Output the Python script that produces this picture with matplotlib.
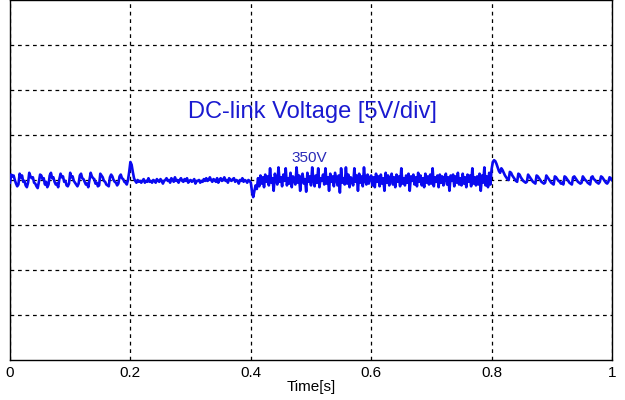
import numpy as np
import matplotlib
matplotlib.use("Agg")
import matplotlib.pyplot as plt

plt.rcParams['font.family'] = ['Liberation Sans', 'DejaVu Sans']

baseline = 350.0  # V

# Voltage deviation from 350 V, per 0.2 s segment
dv_seg1 = [-0.3, 0.6, 0.4, 0.5, 0.0, -0.4, -0.7, -0.5,
           0.7, 0.3, 0.5, -0.2, -0.1, -0.6, -0.8, -0.3,
           0.8, 0.4, 0.2, 0.3, -0.3, -0.4, -0.7, -0.9, -0.2,
           0.6, 0.5, 0.1, 0.2, -0.5, -0.2, -0.8, -0.5,
           0.5, 0.8, 0.2, 0.3, -0.2, -0.5, -0.4, -0.8,
           0.1, 0.7, 0.3, 0.4, -0.2, -0.1, -0.6, -0.7, -0.4,
           0.8, 0.3, 0.4, -0.1, -0.3, -0.5, -0.7, -0.4,
           0.5, 0.7, 0.2, 0.1, -0.2, -0.5, -0.4, -0.8,
           0.0, 0.8, 0.4, 0.2, 0.1, -0.4, -0.3, -0.7, -0.6,
           0.7, 0.5, 0.3, -0.1, -0.2, -0.5, -0.6, -0.7,
           0.3, 0.6, 0.4, 0.0, -0.2, -0.3, -0.6, -0.4,
           0.4, 0.6, 0.2, 0.1, -0.2, -0.3, -0.5, 0.0, 0.9]

dv_seg2 = [2.0, 1.7, 0.9, 0.2, -0.1, -0.3, 0.0, -0.2, -0.1, -0.3,
           -0.1, 0.1, -0.3, -0.1, -0.2, 0.2, -0.2, -0.1, -0.3, 0.0,
           -0.1, -0.3, 0.1, -0.1, -0.2, 0.1, -0.1, -0.4, -0.1, 0.0,
           0.2, -0.1, 0.0, -0.3, 0.2, 0.0, -0.2, 0.3, -0.1, 0.0,
           -0.3, 0.0, 0.2, -0.1, -0.2, 0.1, -0.1, 0.2, -0.3, -0.1,
           0.0, -0.2, -0.1, 0.1, -0.4, -0.1, -0.1, 0.0, -0.3, -0.1,
           -0.2, 0.1, -0.1, 0.2, -0.1, 0.0, 0.3, 0.0, -0.2, 0.1,
           0.0, -0.2, 0.2, -0.3, 0.0, 0.2, -0.1, 0.0, 0.3, -0.1,
           0.0, -0.3, 0.2, 0.0, -0.1, 0.1, 0.2, -0.2, 0.0, -0.1,
           -0.4, 0.0, -0.1, 0.2, -0.2, 0.0, -0.1, -0.3, 0.0, -0.1]

dv_seg3 = [-0.3, -1.3, -1.9, -1.2, -0.6, -1.0, 0.2, -0.7, 0.5, -0.4,
           0.3, -0.8, 0.6, -0.2, 0.4, -0.6, 1.3, -0.3, 0.2, -1.2,
           0.7, 0.0, -0.5, 1.4, -0.2, 0.3, -0.7, 0.6, -0.1, 1.3,
           -0.6, 0.2, -0.4, 0.8, -0.8, 0.4, 0.0, -0.5, 1.4, -0.3,
           0.5, -1.2, 0.3, 0.7, -0.4, 0.1, -1.3, 0.8, -0.2, 0.4,
           -0.6, 1.4, 0.0, -0.7, 0.5, -0.3, 1.3, -0.8, 0.2, -0.1,
           0.6, -0.5, 1.3, -0.4, 0.3, -1.2, 0.7, -0.2, 0.4, -0.7,
           0.8, 0.1, -0.6, 0.5, -1.4, 1.3, -0.3, 0.2, -0.5, 1.4,
           -0.4, 0.6, -0.8, 0.3, 0.0, -0.6, 1.3, -0.2, 0.5, -1.2,
           0.7, -0.3, 0.4, -0.7, 1.4, -0.1, -0.5, 0.6, -0.4, 0.3]

dv_seg4 = [0.5, -0.6, 0.3, -0.8, 0.7, -0.2, 0.4, -0.7, 0.6, -0.4,
           0.2, -1.2, 0.8, -0.3, 0.5, -0.6, 0.1, 0.7, -0.5, 0.3,
           -0.8, 0.6, -0.2, 0.4, -0.7, 1.3, -0.4, 0.2, -0.6, 0.5,
           -0.3, 0.7, -1.2, 0.4, -0.1, 0.6, -0.5, 0.3, -0.7, 0.8,
           -0.2, 0.5, -0.6, 0.2, -0.8, 0.7, -0.3, 0.4, -0.5, 0.6,
           -0.4, 1.3, -0.7, 0.3, -0.2, 0.5, -0.8, 0.6, -0.3, 0.4,
           -0.6, 0.2, 0.7, -0.5, 0.3, -1.2, 0.5, -0.1, 0.6, -0.7,
           0.4, -0.3, 0.8, -0.5, 0.2, -0.6, 0.7, -0.4, 0.3, -0.8,
           0.6, -0.2, 0.5, -0.7, 1.3, -0.4, 0.3, -0.6, 0.4, -0.5,
           0.7, -1.2, 0.5, -0.3, 1.4, -0.6, 0.4, -0.8, 0.8, -0.5]

dv_seg5 = [1.2, 2.0, 2.2, 2.1, 1.8, 1.4, 1.0, 0.8,
           1.3, 1.1, 0.8, 0.5, 0.3, 0.1, 0.0,
           0.9, 0.8, 0.5, 0.3, 0.1, -0.1, -0.2,
           0.7, 0.6, 0.3, 0.1, -0.1, -0.2, -0.3, -0.2,
           0.6, 0.4, 0.2, 0.0, -0.2, -0.3, -0.4,
           0.5, 0.4, 0.2, 0.0, -0.2, -0.3, -0.4, -0.3,
           0.5, 0.3, 0.1, -0.1, -0.3, -0.4, -0.5,
           0.4, 0.3, 0.1, -0.1, -0.2, -0.4, -0.3, -0.5,
           0.4, 0.3, 0.1, -0.1, -0.3, -0.4, -0.5,
           0.3, 0.4, 0.2, 0.0, -0.2, -0.3, -0.4, -0.3,
           0.4, 0.2, 0.0, -0.1, -0.3, -0.4, -0.5,
           0.3, 0.4, 0.1, 0.0, -0.2, -0.3, -0.4, -0.2,
           0.4, 0.3, 0.1, -0.1, -0.3, -0.4, -0.2, 0.3, 0.2, 0.0]

segment_edges = [0.0, 0.2, 0.4, 0.6, 0.8, 1.0]
x_ticks = [0, 0.2, 0.4, 0.6, 0.8, 1]
x_ticklabels = ['0', '0.2', '0.4', '0.6', '0.8', '1']
y_grid = [335, 340, 345, 350, 355, 360, 365]

title_text = 'DC-link Voltage [5V/div]'
level_text = '350V'

segs = [dv_seg1, dv_seg2, dv_seg3, dv_seg4, dv_seg5]
t_parts, v_parts = [], []
for i, s in enumerate(segs):
    last = (i == len(segs) - 1)
    t_parts.append(np.linspace(segment_edges[i], segment_edges[i + 1], len(s), endpoint=last))
    v_parts.append(baseline + np.array(s))
t = np.concatenate(t_parts)
v = np.concatenate(v_parts)

fig = plt.figure(figsize=(6.25, 4.0), dpi=100)
ax = fig.add_axes([10 / 625, 40 / 400, 602 / 625, 360 / 400])

ax.plot(t, v, color='#0a0af0', lw=1.9, zorder=3)

ax.set_xlim(0, 1)
ax.set_ylim(330, 370)
ax.set_xticks(x_ticks)
ax.set_xticklabels(x_ticklabels, fontsize=11)
ax.set_yticks(y_grid)
ax.set_yticklabels([])
ax.tick_params(axis='both', length=0)
ax.tick_params(axis='x', pad=4)
ax.grid(True, color='black', linestyle=(0, (3, 3)), linewidth=0.9, zorder=1)
for sp in ax.spines.values():
    sp.set_color('black')
    sp.set_linewidth(1.0)
ax.set_xlabel('Time[s]', fontsize=11, labelpad=0)

ax.text(0.502, 357.55, title_text, color='#1a1ad0', fontsize=17,
        ha='center', va='center', zorder=4)
ax.text(0.4975, 352.5, level_text, color='#2a2ab8', fontsize=11,
        ha='center', va='center', zorder=4)

fig.savefig('out.png', dpi=100)
